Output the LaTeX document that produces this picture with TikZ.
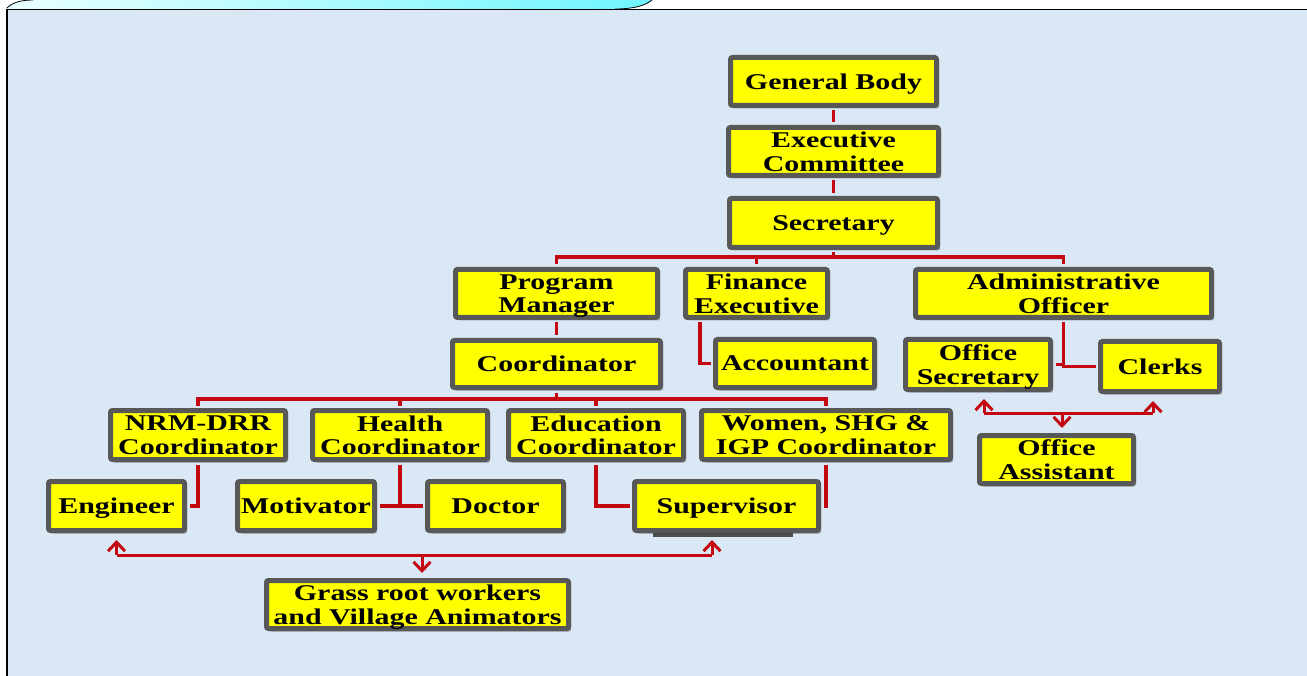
\documentclass[tikz,border=0pt]{standalone}
\usepackage{fontspec}
\newfontfamily\boxfont{Liberation Serif}[FakeStretch=1.33]
\usetikzlibrary{arrows.meta,shadows,calc}
\definecolor{boxyellow}{RGB}{255,255,0}
\definecolor{boxgray}{RGB}{88,88,88}
\definecolor{linkred}{RGB}{195,8,18}
\definecolor{bgblue}{RGB}{218,231,245}
\definecolor{tabL}{RGB}{235,255,255}
\definecolor{tabR}{RGB}{110,245,255}
\tikzset{
  orgbox/.style={draw=boxgray, line width=5pt, fill=boxyellow, rounded corners=2pt,
    inner sep=1pt, align=center, text=black, text depth=0pt,
    font=\boxfont\bfseries\fontsize{22.5}{23.5}\selectfont,
    drop shadow={shadow xshift=2.5pt, shadow yshift=-3pt, opacity=0.3, fill=black}},
  link/.style={draw=linkred, line width=3.5pt},
  arrlink/.style={draw=linkred, line width=3pt, -{Straight Barb[length=9pt,width=17pt,line width=3pt]}, shorten >=3pt},
  hline/.style={draw=linkred, line width=3pt},
}
\begin{document}
\begin{tikzpicture}[x=1pt,y=-1pt]
\useasboundingbox (0,0) rectangle (1307,676);
% background
\fill[white] (0,0) rectangle (1307,676);
\fill[bgblue] (7,9) rectangle (1307,676);
% top tab
\shade[left color=tabL, right color=tabR] (7,8) .. controls (12,3) and (20,0) .. (33,0) -- (652,0) .. controls (645,6) and (632,9) .. (615,9) -- (7,9) -- cycle;
\draw[black, line width=0.8pt] (7,8) .. controls (12,3) and (20,0) .. (33,0);
\draw[black, line width=0.8pt] (652,0) .. controls (645,6) and (632,9) .. (615,9);
% frame
\draw[black, line width=1.5pt] (7,9.5) -- (1307,9.5);
\draw[black, line width=1.2pt] (7,9) -- (7,676);

% hidden strip under supervisor
\fill[boxgray!90!black] (653,520) rectangle (793,537);

% nodes
\node[orgbox, minimum width=206pt, minimum height=48pt] (gb) at (833.5,81.5) {General Body};
\node[orgbox, minimum width=210pt, minimum height=48pt] (ec) at (833.5,151.5) {Executive\\Committee};
\node[orgbox, minimum width=208pt, minimum height=49pt] (sec) at (833.5,223) {Secretary};

\node[orgbox, minimum width=202pt, minimum height=48pt] (pm) at (556.5,293.5) {Program\\Manager};
\node[orgbox, minimum width=142pt, minimum height=48pt] (fe) at (756.5,293.5) {Finance\\Executive};
\node[orgbox, minimum width=296pt, minimum height=48pt] (ao) at (1063.5,293.5) {Administrative\\Officer};

\node[orgbox, minimum width=208pt, minimum height=47pt] (co) at (556.5,364) {Coordinator};
\node[orgbox, minimum width=159pt, minimum height=48pt] (ac) at (795,363.5) {Accountant};
\node[orgbox, minimum width=145pt, minimum height=50pt] (os) at (978,364.5) {Office\\Secretary};
\node[orgbox, minimum width=119pt, minimum height=50pt] (cl) at (1160,366.5) {Clerks};
\node[orgbox, minimum width=154pt, minimum height=48pt] (oa) at (1056.5,459.5) {Office\\Assistant};

\node[orgbox, minimum width=175pt, minimum height=49pt] (nrm) at (198,435) {NRM-DRR\\Coordinator};
\node[orgbox, minimum width=175pt, minimum height=49pt] (hc) at (400,435) {Health\\Coordinator};
\node[orgbox, minimum width=175pt, minimum height=49pt] (edc) at (596,435) {Education\\Coordinator};
\node[orgbox, minimum width=249pt, minimum height=49pt] (wc) at (826,435) {Women, SHG \&\\IGP Coordinator};

\node[orgbox, minimum width=136pt, minimum height=49pt] (eng) at (116.5,506) {Engineer};
\node[orgbox, minimum width=137pt, minimum height=49pt] (mot) at (306,506) {Motivator};
\node[orgbox, minimum width=136pt, minimum height=49pt] (doc) at (495.5,506) {Doctor};
\node[orgbox, minimum width=184pt, minimum height=49pt] (sup) at (726.5,506) {Supervisor};

\node[orgbox, minimum width=302pt, minimum height=48pt] (gr) at (417.5,604.5) {Grass root workers\\and Village Animators};

% helper coordinates
\coordinate (bus1) at (0,257);
\coordinate (bus2) at (0,399);
\coordinate (feleg) at (700,0);
\coordinate (b3) at (422,555);
\coordinate (supx) at (712,0);
\coordinate (b4) at (1062,413);
\coordinate (osx) at (984,0);
\coordinate (clx) at (1153,0);

% top chain
\draw[link] ([yshift=-2.5pt]gb.south) -- ([yshift=2.5pt]ec.north);
\draw[link] ([yshift=-2.5pt]ec.south) -- ([yshift=2.5pt]sec.north);
\draw[link] ([yshift=-2.5pt]sec.south) -- (sec.south |- bus1);
\draw[link] ([yshift=2.5pt]pm.north) -- (pm.north |- bus1) -- (ao.north |- bus1) -- ([yshift=2.5pt]ao.north);
\draw[link] ([yshift=2.5pt]fe.north) -- (fe.north |- bus1);
% program manager -> coordinator
\draw[link] ([yshift=-2.5pt]pm.south) -- ([yshift=2.5pt]co.north);
% finance -> accountant
\draw[link] ([yshift=-2.5pt]fe.south -| feleg) |- ([xshift=-2.5pt]ac.west);
% admin -> office secretary / clerks
\draw[link] ([yshift=-2.5pt]ao.south) |- ([xshift=-2.5pt]cl.west);
\draw[link] ([xshift=2.5pt]os.east) -- (os.east -| ao.south);
% coordinator bus
\draw[link] ([yshift=-2.5pt]co.south) -- (co.south |- bus2);
\draw[link] ([yshift=2.5pt]nrm.north) -- (nrm.north |- bus2) -- (wc.north |- bus2) -- ([yshift=2.5pt]wc.north);
\draw[link] ([yshift=2.5pt]hc.north) -- (hc.north |- bus2);
\draw[link] ([yshift=2.5pt]edc.north) -- (edc.north |- bus2);
% coordinators -> field staff
\draw[link] ([yshift=-2.5pt]nrm.south) |- ([xshift=2.5pt]eng.east);
\draw[link] ([yshift=-2.5pt]hc.south) -- (hc.south |- mot.east);
\draw[link] ([xshift=2.5pt]mot.east) -- ([xshift=-2.5pt]doc.west);
\draw[link] ([yshift=-2.5pt]edc.south) |- ([xshift=-2.5pt]sup.west);
\draw[link] ([yshift=-2.5pt]wc.south) |- ([xshift=2.5pt]sup.east);

% grass root arrows
\draw[hline] (b3 -| eng.south) -- (b3 -| supx);
\draw[arrlink] (b3 -| eng.south) -- ([yshift=-4pt]eng.south);
\draw[arrlink] (b3 -| supx) -- ([yshift=-4pt]sup.south -| supx);
\draw[arrlink] (b3) -- ([yshift=2pt]gr.north -| b3);

% office assistant arrows
\draw[hline] (b4 -| osx) -- (b4 -| clx);
\draw[arrlink] (b4 -| osx) -- ([yshift=-4pt]os.south -| osx);
\draw[arrlink] (b4 -| clx) -- ([yshift=-4pt]cl.south -| clx);
\draw[arrlink] (b4) -- ([yshift=2pt]oa.north -| b4);
\end{tikzpicture}
\end{document}
